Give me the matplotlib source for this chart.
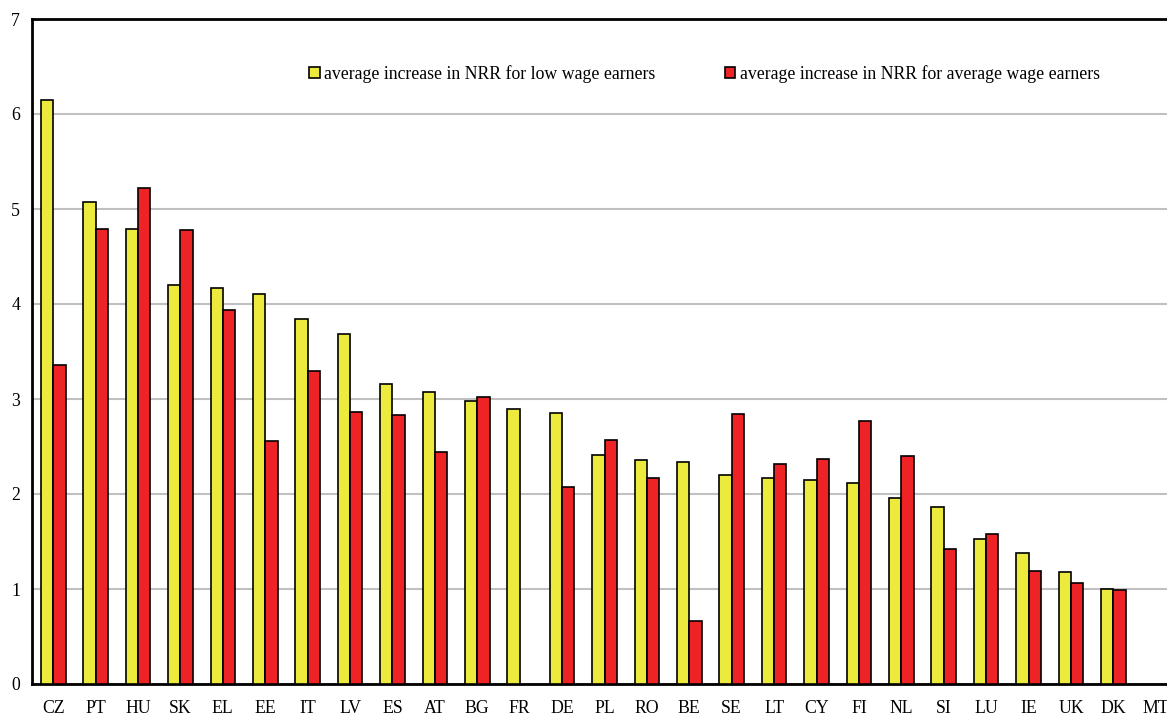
import matplotlib.pyplot as plt
import numpy as np

plt.rcParams['font.family'] = ['Liberation Serif', 'DejaVu Serif']

countries = ['CZ', 'PT', 'HU', 'SK', 'EL', 'EE', 'IT', 'LV', 'ES', 'AT', 'BG', 'FR', 'DE', 'PL',
             'RO', 'BE', 'SE', 'LT', 'CY', 'FI', 'NL', 'SI', 'LU', 'IE', 'UK', 'DK', 'MT']
low_wage = [6.15, 5.07, 4.79, 4.20, 4.17, 4.11, 3.84, 3.68, 3.16, 3.07, 2.98, 2.90, 2.85, 2.41,
            2.36, 2.34, 2.20, 2.17, 2.15, 2.12, 1.96, 1.86, 1.53, 1.38, 1.18, 1.00, np.nan]
avg_wage = [3.36, 4.79, 5.22, 4.78, 3.94, 2.56, 3.30, 2.86, 2.83, 2.44, 3.02, np.nan, 2.07, 2.57,
            2.17, 0.66, 2.84, 2.32, 2.37, 2.77, 2.40, 1.42, 1.58, 1.19, 1.06, 0.99, np.nan]
lbl_low = 'average increase in NRR for low wage earners'
lbl_avg = 'average increase in NRR for average wage earners'

W, H = 1167, 715
fig = plt.figure(figsize=(W / 100, H / 100), dpi=100)
# plot area is cropped on the right in the original, so it runs past the figure edge
ax = fig.add_axes([32 / W, 31 / H, 1145 / W, 665 / H])

x = np.arange(len(countries))
bw = 0.29
ax.bar(x - bw / 2, low_wage, bw, color='#ECEA3C', edgecolor='black', linewidth=1.2, label=lbl_low, zorder=3)
ax.bar(x + bw / 2, avg_wage, bw, color='#EE2325', edgecolor='black', linewidth=1.2, label=lbl_avg, zorder=3)

ax.set_xlim(-0.5, len(countries) - 0.5)
ax.set_ylim(0, 7)
ax.set_yticks(range(0, 8))
ax.set_xticks(x)
ax.set_xticklabels(countries)
ax.tick_params(axis='both', length=0, labelsize=12.8)
ax.tick_params(axis='x', pad=11.5)
ax.tick_params(axis='y', pad=8.5)
ax.yaxis.grid(True, color='#C0C0C0', linewidth=1.5, zorder=0)
ax.set_axisbelow(True)
for s in ['left', 'bottom', 'top']:
    ax.spines[s].set_linewidth(2)
ax.spines['right'].set_visible(False)

ax.legend(loc='center left', bbox_to_anchor=(300 / W, 1 - 74 / H), bbox_transform=fig.transFigure,
          ncol=2, frameon=False, fontsize=12.8, handlelength=0.6, handleheight=0.6,
          handletextpad=0.25, columnspacing=3.9, borderpad=0)

# title sits above the crop, only its lowest pixels show
fig.text(590 / W, 1 + 5 / H, '(per cent)', ha='center', va='baseline', fontsize=16.5, fontweight='bold')

fig.savefig('out.png', dpi=100)
